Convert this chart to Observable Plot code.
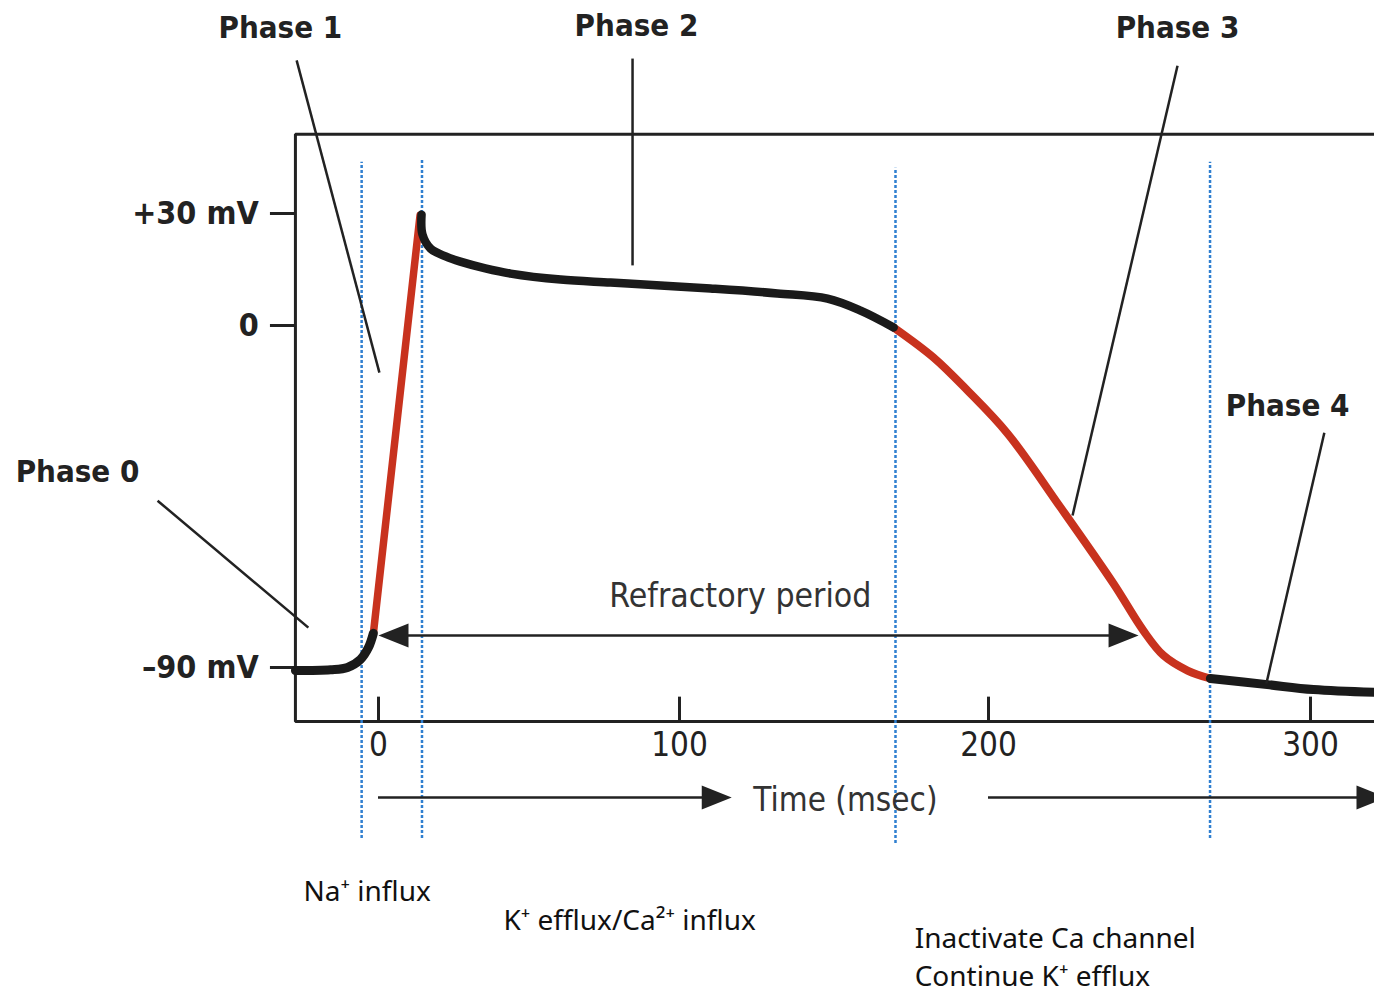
<!DOCTYPE html>
<html><head><meta charset="utf-8">
<script src="https://cdn.jsdelivr.net/npm/d3@7"></script>
<script src="https://cdn.jsdelivr.net/npm/@observablehq/plot@0.6"></script>
<style>html,body{margin:0;padding:0;background:#fff;overflow:hidden}</style>
</head><body><div id="chart"></div>
<script>
// ---- data (time in ms, membrane potential in mV) ----
const timeTicks = [0, 100, 200, 300];
const timeTickLabels = ["0", "100", "200", "300"];
const voltageTicks = [30, 0, -90];
const voltageTickLabels = ["+30 mV", "0", "\u201390 mV"];

const phase4Before = [[-27.6,-90.8],[-15.9,-90.6],[-10.3,-90.0],[-6.0,-87.9],[-3.3,-84.7],[-1.7,-81.0]];
const phase0 = [[-1.7,-81.0],[13.8,29.5]];
const phase12 = [[14.3,29.7],[14.6,24.4],[17.3,20.6],[22.3,18.5],[27.2,17.1],[35.5,15.3],[43.9,13.9],
  [60.5,12.3],[77.1,11.5],[93.7,10.7],[110,9.9],[131.7,8.6],[147.9,7.2],[158.6,4.0],[169.3,-0.5]];
const phase3 = [[169.3,-0.5],[182.2,-8.4],[193.2,-17.1],[205.9,-28.4],[222.4,-47.9],[238.8,-67.9],
  [248.1,-80.3],[254.3,-86.8],[261.8,-90.8],[268.9,-92.9]];
const phase4After = [[268.9,-92.9],[286.6,-94.5],[300.9,-95.8],[322,-96.6]];

const dividerTimes = [-5.6, 14.45, 169.9, 268.8];
const dividerTop = [43.7, 44.2, 42.1, 43.7];
const dividerBottom = [-135, -135, -136.3, -135];

const phaseLabels = ["Phase 0", "Phase 1", "Phase 2", "Phase 3", "Phase 4"];
const phaseLabelT = [-100, -32.6, 85.7, 258.7, 292.9];
const phaseLabelV = [-38.7, 79.8, 80.1, 79.6, -21.1];
const leaderT1 = [-73.4, -27.2, 84.4, 258.7, 304.3];
const leaderV1 = [-46.1, 71.0, 71.5, 69.6, -28.2];
const leaderT2 = [-23.3, 0.3, 84.4, 226.1, 286.3];
const leaderV2 = [-79.5, -12.4, 16.1, -50.0, -94.2];

const refractoryStart = 0, refractoryEnd = 246.6, refractoryLevel = -81.6;
const refractoryLabel = "Refractory period";
const axisTitle = "Time (msec)";

const notes = ["Na\u207A influx", "K\u207A efflux/Ca\u00B2\u207A influx", "Inactivate Ca channel\nContinue K\u207A efflux"];
const noteT = [-24.9, 41.5, 176.1];
const noteV = [-148.2, -156.0, -165.5];

// ---- drawing ----
const frameT = [-27.6, 330], frameV = [-104.2, 51.2];
const ink = "#222", red = "#c8321e", blue = "#2f7fd0";
const font = "'Liberation Sans Narrow', 'DejaVu Sans Condensed', 'Roboto', sans-serif";
const noteFont = "'Noto Sans', sans-serif";
const arrowHead = {draw(ctx) { ctx.moveTo(0, 0); ctx.lineTo(-30, -12); ctx.lineTo(-30, 12); ctx.closePath(); }};

const idx = a => a.map((_, i) => i);

const chart = Plot.plot({
  width: 1374, height: 998,
  marginTop: 0, marginRight: 0, marginBottom: 0, marginLeft: 0,
  style: {background: "#fff", fontFamily: font, overflow: "hidden"},
  x: {type: "linear", domain: [0, 100, 200, 300], range: [378, 679, 988, 1310], axis: null},
  y: {type: "linear", domain: [-90, 0, 30], range: [667, 325, 213], axis: null},
  marks: [
    // frame
    Plot.line([[frameT[1], frameV[1]], [frameT[0], frameV[1]], [frameT[0], frameV[0]], [frameT[1], frameV[0]]],
      {stroke: ink, strokeWidth: 3, strokeLinejoin: "miter"}),
    Plot.ruleX(timeTicks, {y1: frameV[0], y2: -97.8, stroke: ink, strokeWidth: 3}),
    Plot.ruleY(voltageTicks, {x1: -35.9, x2: frameT[0], stroke: ink, strokeWidth: 3}),
    Plot.text(timeTickLabels, {x: (d, i) => timeTicks[i], y: -110.5, text: d => d, fontSize: 33, fill: ink}),
    Plot.text(voltageTickLabels, {x: -39.8, y: (d, i) => voltageTicks[i], text: d => d, textAnchor: "end",
      fontSize: 32, fontWeight: "bold", fill: ink}),
    // dotted phase dividers
    Plot.ruleX(idx(dividerTimes), {x: i => dividerTimes[i], y1: i => dividerBottom[i], y2: i => dividerTop[i],
      stroke: blue, strokeWidth: 2.5, strokeDasharray: "3,2"}),
    // refractory period arrow
    Plot.ruleY([refractoryLevel], {x1: refractoryStart + 5, x2: refractoryEnd - 5, stroke: ink, strokeWidth: 2.5}),
    Plot.dot([[refractoryStart]], {x: d => d[0], y: refractoryLevel, symbol: arrowHead, rotate: 180, fill: ink, stroke: null}),
    Plot.dot([[refractoryEnd]], {x: d => d[0], y: refractoryLevel, symbol: arrowHead, fill: ink, stroke: null}),
    Plot.text([refractoryLabel], {x: 119.7, y: -71.3, text: d => d, fontSize: 33.5, fill: "#333"}),
    // time arrows
    Plot.ruleY([-124.2], {x1: 0, x2: 110, stroke: ink, strokeWidth: 2.5}),
    Plot.dot([[116.9]], {x: d => d[0], y: -124.2, symbol: arrowHead, fill: ink, stroke: null}),
    Plot.ruleY([-124.2], {x1: 200, x2: 318, stroke: ink, strokeWidth: 2.5}),
    Plot.dot([[323.6]], {x: d => d[0], y: -124.2, symbol: arrowHead, fill: ink, stroke: null}),
    Plot.text([axisTitle], {x: 153.7, y: -125, text: d => d, fontSize: 33, fill: "#333"}),
    // action potential
    Plot.line(phase0, {stroke: red, strokeWidth: 7.5, curve: "linear"}),
    Plot.line(phase3, {stroke: red, strokeWidth: 8, curve: "catmull-rom"}),
    Plot.line(phase4Before, {stroke: "#1a1a1a", strokeWidth: 9, curve: "catmull-rom"}),
    Plot.line(phase12, {stroke: "#1a1a1a", strokeWidth: 8.5, curve: "catmull-rom"}),
    Plot.line(phase4After, {stroke: "#1a1a1a", strokeWidth: 9, curve: "catmull-rom"}),
    // phase leaders and labels
    Plot.link(idx(phaseLabels), {x1: i => leaderT1[i], y1: i => leaderV1[i], x2: i => leaderT2[i], y2: i => leaderV2[i],
      stroke: ink, strokeWidth: 2.5}),
    Plot.text(phaseLabels, {x: (d, i) => phaseLabelT[i], y: (d, i) => phaseLabelV[i], text: d => d,
      fontSize: 31, fontWeight: "bold", fill: ink}),
    // ion notes
    Plot.text(notes, {x: (d, i) => noteT[i], y: (d, i) => noteV[i], text: d => d, textAnchor: "start",
      lineHeight: 1.36, fontSize: 28, fontFamily: noteFont, fill: "#111"})
  ]
});
document.getElementById("chart").appendChild(chart);
</script></body></html>
